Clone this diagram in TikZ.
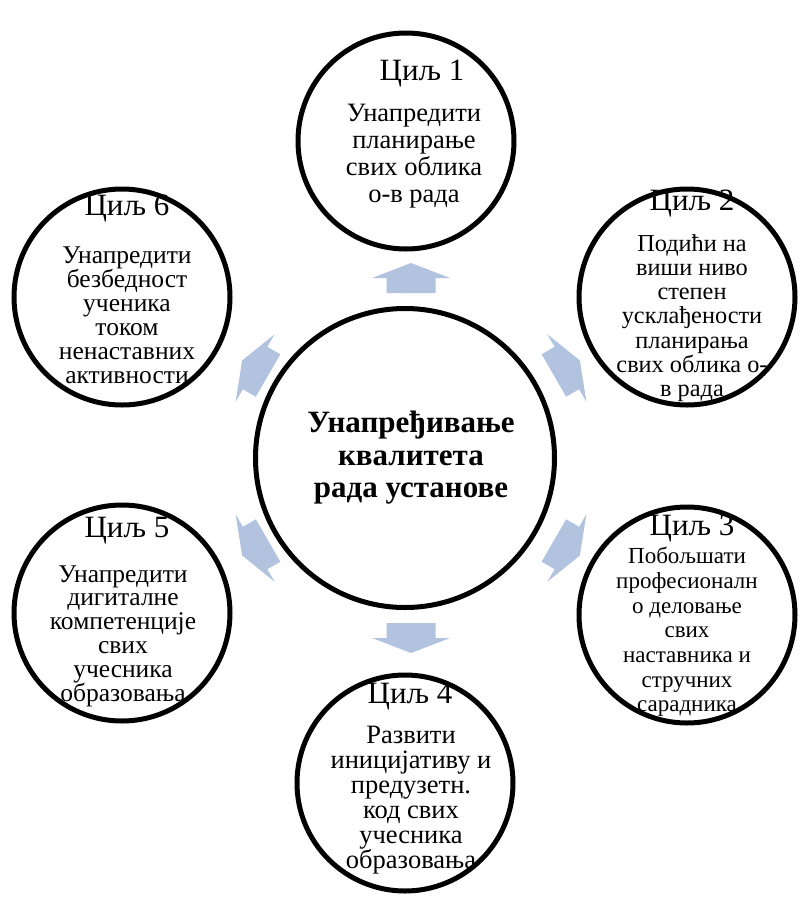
\documentclass[tikz,border=0pt]{standalone}
\usepackage{fontspec}
\setmainfont{Liberation Serif}
\definecolor{arrowblue}{RGB}{178,195,224}

\begin{document}
\begin{tikzpicture}[x=1pt, y=-1pt,
    goal/.style={circle, draw, line width=5pt, minimum size=216pt, inner sep=0pt},
    hub/.style={circle, draw, line width=5pt, minimum size=299pt, inner sep=0pt},
    title/.style={anchor=base, inner sep=0pt, font=\fontsize{31}{34}\selectfont},
    body/.style 2 args={align=center, inner sep=0pt, font=\fontsize{#1}{#2}\selectfont}]
\useasboundingbox (0,0) rectangle (801,903);

% Centre text
\node[align=center, inner sep=0pt, font=\fontsize{31}{32.5}\selectfont\bfseries] (htext) at (411,458)
    {Унапређивање\\квалитета\\рада установе};

% Goal titles
\node[title] (t1) at (422,80) {Циљ 1};
\node[title] (t2) at (692,210) {Циљ 2};
\node[title] (t3) at (692,535) {Циљ 3};
\node[title] (t4) at (410,703) {Циљ 4};
\node[title] (t5) at (127,537) {Циљ 5};
\node[title] (t6) at (127,215) {Циљ 6};

% Goal texts
\node[body={26.5}{27}] (b1) at (414,156)
    {Унапредити\\планирање\\свих облика\\о-в рада};
\node[body={24.3}{24.2}] (b2) at (692,318)
    {Подићи на\\виши ниво\\степен\\усклађености\\планирања\\свих облика о-\\в рада};
\node[body={23}{24.7}] (b3) at (687,632)
    {Побољшати\\професионалн\\о деловање\\свих\\наставника и\\стручних\\сарадника};
\node[body={26.5}{25}] (b4) at (411,800)
    {Развити\\иницијативу и\\предузетн.\\код свих\\учесника\\образовања};
\node[body={25.5}{23.8}] (b5) at (123,636)
    {Унапредити\\дигиталне\\компетенције\\свих\\учесника\\образовања};
\node[body={25.5}{24}] (b6) at (127,315)
    {Унапредити\\безбедност\\ученика\\током\\ненаставних\\активности};

% Circles
\node[hub] (hub) at (405,458) {};
\node[goal] (g1) at (406,141) {};
\node[goal] (g2) at (687,297) {};
\node[goal] (g3) at (687,615) {};
\node[goal] (g4) at (405,783) {};
\node[goal] (g5) at (122,613) {};
\node[goal] (g6) at (122,297) {};

% Block arrows
\coordinate (mid) at (411,458);
\foreach \a in {90,30,-30,-90,-150,150} {
    \fill[arrowblue, shift={(mid)}, rotate=\a, xshift=180pt]
        (-15,-24.5) -- (0,-24.5) -- (0,-39) -- (15,0) -- (0,39) -- (0,24.5) -- (-15,24.5) -- cycle;
}
\end{tikzpicture}
\end{document}
